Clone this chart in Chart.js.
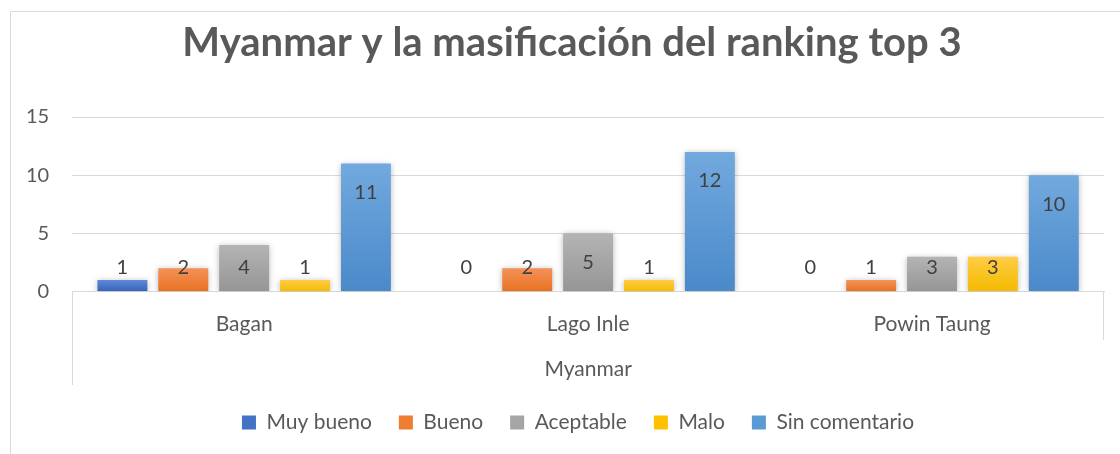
<!DOCTYPE html>
<html>
<head>
<meta charset="utf-8">
<script src="https://cdn.jsdelivr.net/npm/chart.js@4/dist/chart.umd.min.js"></script>
<style>
  html, body { margin: 0; padding: 0; background: #fff; }
  #wrap { position: relative; width: 1120px; height: 454px; }
</style>
</head>
<body>
<div id="wrap"><canvas id="myChart" width="1120" height="454"></canvas></div>
<script>
// data
var chartTitle = "Myanmar y la masificación del ranking top 3";
var categories = ["Bagan", "Lago Inle", "Powin Taung"];
var groupLabel = "Myanmar";
var seriesNames = ["Muy bueno", "Bueno", "Aceptable", "Malo", "Sin comentario"];
var muyBueno = [1, 0, 0];
var bueno = [2, 2, 1];
var aceptable = [4, 5, 3];
var malo = [1, 1, 3];
var sinComentario = [11, 12, 10];
var yTicks = [0, 5, 10, 15];

var flatColors = ["#4472C4", "#ED7D31", "#A5A5A5", "#FFC000", "#5B9BD5"];
var topColors = ["#5F8AD6", "#F4925A", "#B4B4B4", "#FFCD45", "#72A9DE"];
var bottomColors = ["#3563BD", "#E8711F", "#959595", "#F4BA00", "#4A89CA"];

var FONT = "Lato, 'Open Sans', sans-serif";
var GREY = "#595959";
var LINE = "#d9d9d9";

function gradientFor(i) {
  return function (c) {
    var chart = c.chart;
    var y = chart.scales.y;
    if (!chart.chartArea || !y || c.raw === undefined) return flatColors[i];
    var top = y.getPixelForValue(c.raw);
    var base = y.getPixelForValue(0);
    if (!isFinite(top) || !isFinite(base) || top === base) return flatColors[i];
    var g = chart.ctx.createLinearGradient(0, top, 0, base);
    g.addColorStop(0, topColors[i]);
    g.addColorStop(1, bottomColors[i]);
    return g;
  };
}

var allSeries = [muyBueno, bueno, aceptable, malo, sinComentario];
var datasets = allSeries.map(function (vals, i) {
  return {
    label: seriesNames[i],
    data: vals,
    backgroundColor: gradientFor(i),
    borderWidth: 0,
    categoryPercentage: 0.885,
    barPercentage: 0.82
  };
});

// outer frame, title and multi-level axis lines
var framePlugin = {
  id: "frame",
  afterLayout: function (chart) {
    // the legend sits centred on the framed box, not on the canvas
    var lg = chart.legend;
    var shift = 578 - (lg.left + lg.right) / 2;
    lg.left += shift;
    lg.right += shift;
  },
  beforeDraw: function (chart) {
    var ctx = chart.ctx;
    ctx.save();
    ctx.strokeStyle = LINE;
    ctx.lineWidth = 1;
    ctx.beginPath();
    ctx.moveTo(10.5, chart.height);
    ctx.lineTo(10.5, 11.5);
    ctx.lineTo(chart.width, 11.5);
    ctx.stroke();
    // title, centred on the framed box (which runs past the right edge)
    ctx.font = "bold 40px " + FONT;
    ctx.fillStyle = GREY;
    ctx.textAlign = "center";
    ctx.textBaseline = "alphabetic";
    ctx.fillText(chartTitle, 572, 56);
    ctx.restore();
  },
  afterDraw: function (chart) {
    var ctx = chart.ctx;
    var a = chart.chartArea;
    var x = chart.scales.x;
    ctx.save();
    ctx.strokeStyle = LINE;
    ctx.lineWidth = 1;
    ctx.beginPath();
    ctx.moveTo(Math.round(a.left) + 0.5, a.bottom);
    ctx.lineTo(Math.round(a.left) + 0.5, x.bottom);
    ctx.moveTo(Math.round(a.right) - 0.5, a.bottom);
    ctx.lineTo(Math.round(a.right) - 0.5, a.bottom + (x.bottom - a.bottom) * 0.52);
    ctx.stroke();
    ctx.restore();
  }
};

// bar shadow
var shadowPlugin = {
  id: "barShadow",
  beforeDatasetsDraw: function (chart) {
    var ctx = chart.ctx;
    ctx.save();
    ctx.shadowColor = "rgba(0,0,0,0.28)";
    ctx.shadowBlur = 6;
    ctx.shadowOffsetX = 0;
    ctx.shadowOffsetY = 1;
  },
  afterDatasetsDraw: function (chart) {
    chart.ctx.restore();
  }
};

// value labels, inside end, pushed up for short bars
var labelPlugin = {
  id: "valueLabels",
  afterDatasetsDraw: function (chart) {
    var ctx = chart.ctx;
    ctx.save();
    ctx.font = "20px " + FONT;
    ctx.fillStyle = "#404040";
    ctx.textAlign = "center";
    ctx.textBaseline = "middle";
    chart.data.datasets.forEach(function (ds, di) {
      var meta = chart.getDatasetMeta(di);
      meta.data.forEach(function (el, i) {
        var y = Math.min(el.y + 29, el.base - 24);
        ctx.fillText(String(ds.data[i]), el.x, y);
      });
    });
    ctx.restore();
  }
};

var myChart = document.getElementById("myChart").getContext("2d");
var chart = new Chart(myChart, {
  type: "bar",
  data: { labels: categories, datasets: datasets },
  plugins: [framePlugin, shadowPlugin, labelPlugin],
  options: {
    responsive: false,
    animation: false,
    layout: { padding: { left: 3, right: 16, top: 117, bottom: 11 } },
    plugins: {
      tooltip: { enabled: false },
      title: { display: false },
      legend: {
        position: "bottom",
        labels: {
          color: GREY,
          font: { family: FONT, size: 21 },
          boxWidth: 14,
          boxHeight: 14,
          padding: 27,
          generateLabels: function (c) {
            return c.data.datasets.map(function (ds, i) {
              return {
                text: ds.label,
                fillStyle: flatColors[i],
                strokeStyle: flatColors[i],
                lineWidth: 0,
                fontColor: GREY,
                datasetIndex: i
              };
            });
          }
        }
      }
    },
    scales: {
      x: {
        grid: { display: false },
        border: { display: true, color: LINE },
        ticks: { color: GREY, font: { family: FONT, size: 21 }, padding: 12 },
        title: {
          display: true,
          text: groupLabel,
          color: GREY,
          font: { family: FONT, size: 21 },
          padding: { top: 8, bottom: 3 }
        }
      },
      y: {
        min: 0,
        max: 15,
        afterBuildTicks: function (s) {
          s.ticks = yTicks.map(function (v) { return { value: v }; });
        },
        grid: { color: LINE, drawTicks: false },
        border: { display: false },
        ticks: { color: GREY, font: { family: FONT, size: 20 }, padding: 23 }
      }
    }
  }
});
</script>
</body>
</html>
